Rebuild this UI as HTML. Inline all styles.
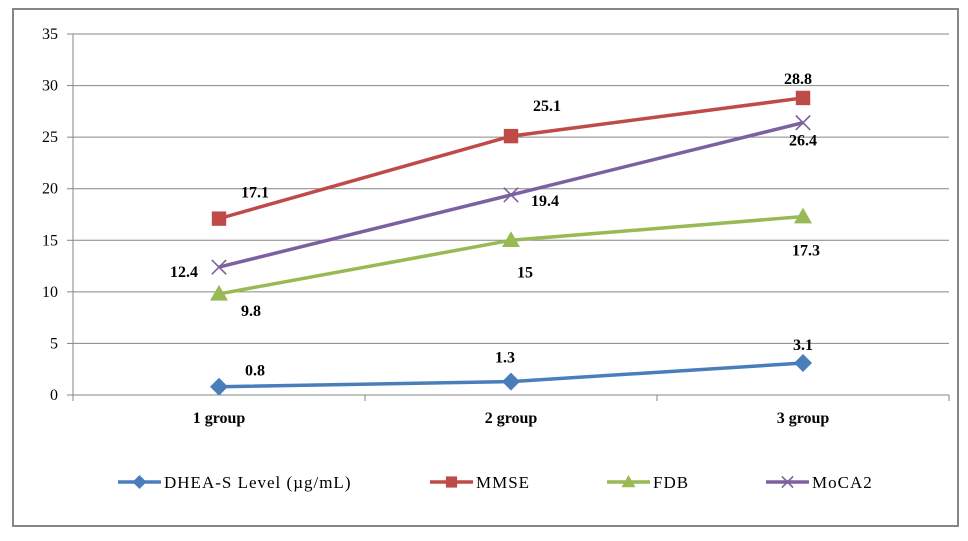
<!DOCTYPE html>
<html><head><meta charset="utf-8"><style>
body{margin:0;background:#fff}
svg text{font-family:"Liberation Serif",serif}
</style></head><body>
<svg width="968" height="536" xmlns="http://www.w3.org/2000/svg" id="chart">
<rect x="13" y="9" width="945" height="517" fill="#fff" stroke="#868686" stroke-width="2"/>
<g id="grid"></g><g id="axes"></g><g id="series"></g><g id="legend"></g>
</svg>
<script>
const categories=["1 group","2 group","3 group"];
const yTicks=[0,5,10,15,20,25,30,35];
const seriesNames=["DHEA-S Level (µg/mL)","MMSE","FDB","MoCA2"];
const dhea=[0.8,1.3,3.1];
const mmse=[17.1,25.1,28.8];
const fdb=[9.8,15,17.3];
const moca=[12.4,19.4,26.4];
const allSeries=[dhea,mmse,fdb,moca];
const colors=["#4a7ebb","#be4b48","#98b954","#7d60a0"];
const markers=["diamond","square","triangle","x"];
// label offsets (style only)
const labelOff=[[[36,-16],[-6,-24],[0,-18]],[[36,-26],[36,-30],[-5,-19]],[[32,17],[14,32],[3,34]],[[-35,5],[34,6],[0,18]]];
const NS="http://www.w3.org/2000/svg";
const X0=73,X1=949,Y0=395,Y1=34,YMAX=35;
const y=v=>Y0-(v/YMAX)*(Y0-Y1);
const band=(X1-X0)/categories.length;
const x=i=>X0+band*(i+0.5);
function mk(tag,at,parent){const e=document.createElementNS(NS,tag);for(const k in at)e.setAttribute(k,at[k]);parent.appendChild(e);return e;}
const grid=document.getElementById('grid'),axes=document.getElementById('axes'),ser=document.getElementById('series'),leg=document.getElementById('legend');
yTicks.forEach(t=>{
  if(t>0){const l=mk('line',{x1:X0,x2:X1,y1:y(t),y2:y(t),stroke:'#868686','stroke-width':1},grid);
  
  }
  const tk=mk('line',{x1:X0-6,x2:X0,y1:y(t),y2:y(t),stroke:'#868686'},axes);
  
  
  const tx=mk('text',{x:X0-15,y:y(t)+5,'text-anchor':'end','font-size':16},axes);tx.textContent=t;
  
  
});
const ya=mk('line',{x1:X0,x2:X0,y1:Y1,y2:Y0,stroke:'#868686'},axes);


const xa=mk('line',{x1:X0,x2:X1,y1:Y0,y2:Y0,stroke:'#868686'},axes);


for(let i=0;i<=categories.length;i++){const t=mk('line',{x1:X0+band*i,x2:X0+band*i,y1:Y0,y2:Y0+6,stroke:'#868686'},axes);
  
  }
categories.forEach((c,i)=>{const t=mk('text',{x:x(i),y:Y0+28,'text-anchor':'middle','font-size':16,'font-weight':'bold'},axes);t.textContent=c;
  
  });
function marker(type,cx,cy,col,g,s){
  let e;
  if(type==='diamond')e=mk('polygon',{points:`${cx},${cy-s} ${cx+s},${cy} ${cx},${cy+s} ${cx-s},${cy}`,fill:col},g);
  else if(type==='square')e=mk('rect',{x:cx-s*0.8,y:cy-s*0.8,width:s*1.6,height:s*1.6,fill:col},g);
  else if(type==='triangle')e=mk('polygon',{points:`${cx},${cy-s} ${cx+s},${cy+s*0.75} ${cx-s},${cy+s*0.75}`,fill:col},g);
  else {e=mk('path',{d:`M${cx-s*0.8},${cy-s*0.8}L${cx+s*0.8},${cy+s*0.8}M${cx+s*0.8},${cy-s*0.8}L${cx-s*0.8},${cy+s*0.8}`,stroke:col,'stroke-width':1.6,fill:'none'},g);}
  return e;
}
allSeries.forEach((vals,si)=>{
  const g=mk('g',{},ser);
  
  
  const pl=mk('polyline',{points:vals.map((v,i)=>x(i)+','+y(v)).join(' '),fill:'none',stroke:colors[si],'stroke-width':3.5,'stroke-linejoin':'round'},g);
  
  
  vals.forEach((v,i)=>{
    const m=marker(markers[si],x(i),y(v),colors[si],g,9);
    
    
    const o=labelOff[si][i];
    const t=mk('text',{x:x(i)+o[0],y:y(v)+o[1]+5,'text-anchor':'middle','font-size':16,'font-weight':'bold'},g);t.textContent=v;
    
    
  });
});
const legX=[118,430,607,766];
seriesNames.forEach((n,si)=>{
  const g=mk('g',{},leg);
  
  
  const ly=482;
  mk('line',{x1:legX[si],x2:legX[si]+43,y1:ly,y2:ly,stroke:colors[si],'stroke-width':3.5},g);
  marker(markers[si],legX[si]+21.5,ly,colors[si],g,7);
  const t=mk('text',{x:legX[si]+46,y:ly+6,'font-size':17,'letter-spacing':1},g);t.textContent=n;
});
</script>
</body></html>
